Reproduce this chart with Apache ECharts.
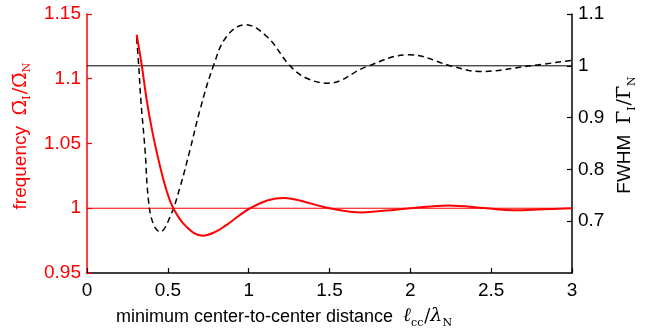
<!DOCTYPE html>
<html><head><meta charset="utf-8">
<script src="https://cdn.jsdelivr.net/npm/echarts@6/dist/echarts.min.js"></script>
<style>html,body{margin:0;padding:0;background:#fff}#c{width:654px;height:330px}</style>
</head><body><div id="c"></div>
<script>
// frequency ratio (left axis)
const freqX = [0.307,0.338,0.369,0.406,0.452,0.49,0.534,0.613,0.716,0.79,0.864,0.94,1.009,1.12,1.219,1.36,1.5,1.70,1.85,2.0,2.236,2.47,2.64,2.82,3.0];
const freqY = [1.134,1.111,1.0838,1.058,1.0323,1.0145,1.0,0.986,0.9788,0.9815,0.9872,0.9942,1.0,1.0062,1.0079,1.0045,1.0,0.9968,0.9982,1.0,1.0022,1.0,0.9985,0.9992,1.0];
// FWHM ratio (right axis)
const fwhmX = [0.307,0.32,0.333,0.359,0.38,0.41,0.452,0.514,0.576,0.637,0.699,0.782,0.864,0.978,1.112,1.256,1.359,1.493,1.73,1.988,2.266,2.431,2.741,3.0];
const fwhmY = [1.0536,1.0,0.934,0.8375,0.741,0.695,0.6795,0.7085,0.7665,0.8375,0.915,1.0,1.0567,1.0793,1.0567,1.0,0.976,0.9665,0.9986,1.0213,0.9986,0.989,1.0,1.0105];
const refX = [0, 3];
const refLeft = [1, 1];
const refRight = [1, 1];
const xTicks = {min:0, max:3, interval:0.5};
const leftTicks = {min:0.95, max:1.15, interval:0.05};
const rightTicks = {min:0.6, max:1.1, interval:0.1};

const zip = (a,b) => a.map((v,i)=>[v,b[i]]);
const RED = '#ff0000';
const sans = 'Liberation Sans, Arial, sans-serif';
const serif = 'DejaVu Serif, Liberation Serif, serif';

function richName(color, size){
  return {
    t:{fontSize:size, fontFamily:sans, color:color, lineHeight:22, verticalAlign:'bottom'},
    m:{fontSize:size, fontFamily:serif, color:color, lineHeight:22, verticalAlign:'bottom'},
    mi:{fontSize:size+1, fontFamily:serif, fontStyle:'italic', color:color, lineHeight:22, verticalAlign:'bottom'},
    s:{fontSize:Math.round(size*0.6), fontFamily:serif, color:color, lineHeight:14, verticalAlign:'bottom', padding:[0,1,-3,0]}
  };
}

const chart = echarts.init(document.getElementById('c'), null, {renderer:'canvas'});
chart.setOption({
  animation:false,
  grid:{left:87, right:82, top:14, bottom:57, outerBoundsMode:'none', containLabel:false},
  xAxis:{type:'value', min:xTicks.min, max:xTicks.max, interval:xTicks.interval,
    axisLine:{lineStyle:{color:'#000', width:1.5}},
    axisTick:{inside:true, length:5, lineStyle:{color:'#000', width:1.2}},
    splitLine:{show:false},
    axisLabel:{color:'#000', fontSize:19, fontFamily:sans, margin:8},
    name:'{t|minimum center-to-center distance  }{mi|ℓ}{s|cc}{m|/}{mi|λ}{s|N}',
    nameLocation:'middle', nameGap:31,
    nameTextStyle:{padding:[0,90,0,0], rich:richName('#000', 18)}
  },
  yAxis:[
    {type:'value', min:leftTicks.min, max:leftTicks.max, interval:leftTicks.interval, position:'left',
      axisLine:{show:true, lineStyle:{color:RED, width:1.5}},
      axisTick:{show:true, inside:true, length:5, lineStyle:{color:RED, width:1.2}},
      splitLine:{show:false},
      axisLabel:{color:RED, fontSize:19, fontFamily:sans, margin:6},
      name:'{t|frequency  }{m|Ω̄}{s|I}{m|/Ω̄}{s|N}',
      nameLocation:'middle', nameGap:45, nameRotate:90,
      nameTextStyle:{padding:[0,0,0,16], rich:richName(RED, 19)}
    },
    {type:'value', min:rightTicks.min, max:rightTicks.max, interval:rightTicks.interval, position:'right',
      axisLine:{show:true, lineStyle:{color:'#000', width:1.5}},
      axisTick:{show:true, inside:true, length:5, lineStyle:{color:'#000', width:1.2}},
      splitLine:{show:false},
      axisLabel:{color:'#000', fontSize:19, fontFamily:sans, margin:6, showMinLabel:false},
      name:'{t|FWHM  }{m|Γ̄}{s|I}{m|/Γ̄}{s|N}',
      nameLocation:'middle', nameGap:39, nameRotate:90,
      nameTextStyle:{padding:[0,0,0,18], rich:richName('#000', 19)}
    }
  ],
  series:[
    {type:'line', yAxisIndex:0, data:zip(refX, refLeft), symbol:'none', color:RED, itemStyle:{color:RED}, lineStyle:{color:RED, width:1.2}, silent:true},
    {type:'line', yAxisIndex:1, data:zip(refX, refRight), symbol:'none', color:'#000', itemStyle:{color:'#000'}, lineStyle:{color:'#000', width:1}, silent:true},
    {type:'line', yAxisIndex:1, data:zip(fwhmX, fwhmY), symbol:'none', smooth:0.4, color:'#000',
      lineStyle:{color:'#000', width:1.5, type:[6,4]}},
    {type:'line', yAxisIndex:0, data:zip(freqX, freqY), symbol:'none', smooth:0.4, color:RED,
      lineStyle:{color:RED, width:2}}
  ]
});
</script></body></html>
